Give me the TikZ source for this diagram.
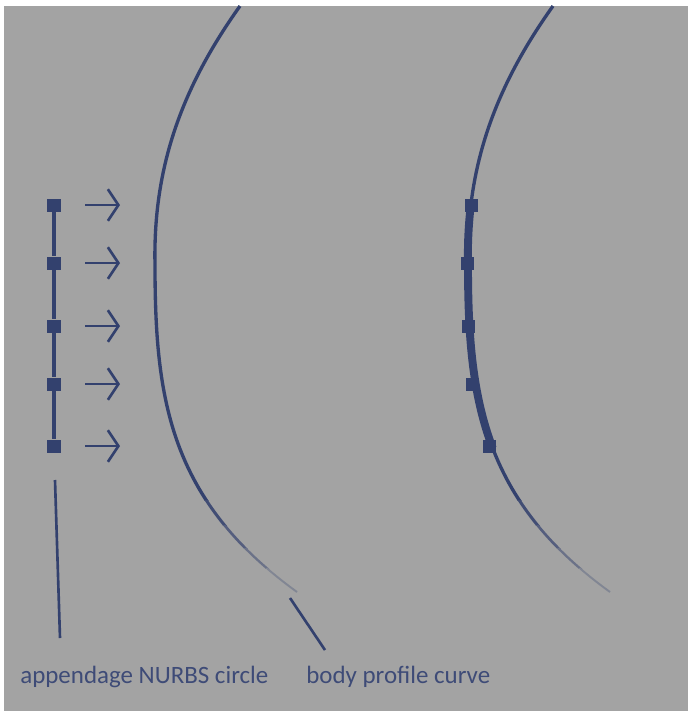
\documentclass[tikz,border=0pt]{standalone}
\usepackage{fontspec}
\setmainfont{Carlito}
\usepackage{xcolor}
\usetikzlibrary{arrows.meta,positioning}
\definecolor{SceneGrey}{HTML}{A3A3A3}
\definecolor{CurveBlue}{HTML}{33416E}
\definecolor{LabelBlue}{HTML}{3E4B77}
\newcommand{\profilecurve}[1]{%
    \draw[#1] (240,6) .. controls (180,90) and (153,170) .. (155,265)
        .. controls (155,400) and (170,500) .. (297,592);%
}

\begin{document}
\begin{tikzpicture}[
        x=0.02cm, y=-0.02cm,
        cvbox/.style={fill=CurveBlue, minimum size=7.4pt, inner sep=0pt},
        pushline/.style={CurveBlue, line width=1.5pt, -{Straight Barb[length=6pt,width=18pt,line width=1.5pt]}},
        ptrline/.style={CurveBlue, line width=1.5pt},
        lbl/.style={text=LabelBlue, font=\fontsize{14.2}{17}\selectfont, inner sep=0pt}
    ]
        \fill[white] (0,0) rectangle (688,711);
        \fill[SceneGrey] (4,6) rectangle (688,711);
        \useasboundingbox (0,0) rectangle (688,711);

        \foreach \dx in {0,313} {
            \foreach \ya/\yb/\pc/\lw in {0/500/100/1.9, 500/525/88/1.7, 525/548/70/1.5, 548/568/50/1.3, 568/605/30/1.1} {
                \begin{scope}
                    \clip (\dx,\ya) rectangle (\dx+360,\yb);
                    \profilecurve{shift={(\dx,0)}, CurveBlue!\pc!SceneGrey, line width=\lw pt}
                \end{scope}
            }
        }
        \begin{scope}
            \clip (400,205) rectangle (560,446);
            \profilecurve{shift={(313,0)}, CurveBlue, line width=4.5pt}
        \end{scope}

        \node[cvbox] (a1) at (54,205) {};
        \node[cvbox] (a2) at (54,263) {};
        \node[cvbox] (a3) at (54,326) {};
        \node[cvbox] (a4) at (54,384) {};
        \node[cvbox] (a5) at (54,446) {};
        \draw[CurveBlue, line width=2.2pt] (a1) -- (a2) -- (a3) -- (a4) -- (a5);

        \node[cvbox] (p1) at (471,205) {};
        \node[cvbox] (p2) at (467,263) {};
        \node[cvbox] (p3) at (468,326) {};
        \node[cvbox] (p4) at (472,384) {};
        \node[cvbox] (p5) at (489,446) {};

        \coordinate (s1) at (85,205);  \coordinate (t1) at (120,205);
        \coordinate (s2) at (85,263);  \coordinate (t2) at (120,263);
        \coordinate (s3) at (85,326);  \coordinate (t3) at (120,326);
        \coordinate (s4) at (85,384);  \coordinate (t4) at (120,384);
        \coordinate (s5) at (85,446);  \coordinate (t5) at (120,446);
        \draw[pushline] (s1) -- (t1);
        \draw[pushline] (s2) -- (t2);
        \draw[pushline] (s3) -- (t3);
        \draw[pushline] (s4) -- (t4);
        \draw[pushline] (s5) -- (t5);

        \node[lbl, anchor=base west] (circlbl) at (20,683) {appendage NURBS circle};
        \node[lbl, anchor=base west] (bodylbl) at (306,683) {body profile curve};

        \coordinate (ca) at (55,480);  \coordinate (cb) at (60,638);
        \coordinate (ba) at (290,598); \coordinate (bb) at (325,650);
        \draw[ptrline] (ca) -- (cb);
        \draw[ptrline] (ba) -- (bb);
    \end{tikzpicture}
\end{document}
